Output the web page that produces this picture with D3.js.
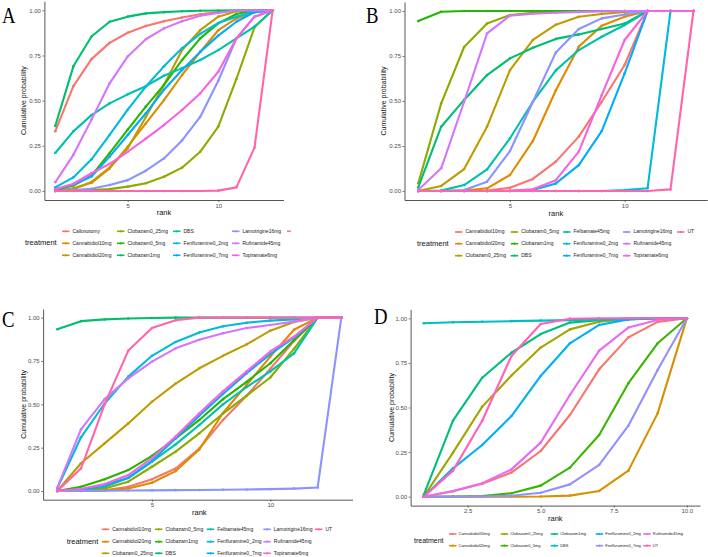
<!DOCTYPE html>
<html><head><meta charset="utf-8">
<script src="https://cdn.jsdelivr.net/npm/d3@7"></script>
<style>body{margin:0;background:#fff} svg{display:block}</style>
</head><body><svg id="c" width="708" height="557"></svg>
<script>
// ---------- DATA ----------
const ranks13 = [1,2,3,4,5,6,7,8,9,10,11,12,13];
const ranks10 = [1,2,3,4,5,6,7,8,9,10];
const colors13 = ["#F8766D","#E18A00","#BE9C00","#8CAB00","#24B700","#00BE70","#00C1AB","#00BBDA","#00ACFC","#8B93FF","#D575FE","#F962DD","#FF65AC"];
const colors10 = ["#F8766D","#D89000","#A3A500","#39B600","#00BF7D","#00BFC4","#00B0F6","#9590FF","#E76BF3","#FF62BC"];
const yTicks = [0,0.25,0.5,0.75,1];

const treatmentsA = ["Callosotomy","Cannabidiol10mg","Cannabidiol20mg","Clobazam0_25mg","Clobazam0_5mg","Clobazam1mg","DBS","Fenfluramine0_2mg","Fenfluramine0_7mg","Lamotrigine16mg","Rufinamide45mg","Topiramate6mg","UT"];
const valuesA = [
  [0.33,0.58,0.73,0.82,0.876,0.913,0.94,0.96,0.978,0.99,1,1,1],
  [0,0.015,0.045,0.125,0.245,0.374,0.503,0.642,0.77,0.89,0.955,0.99,1],
  [0,0.01,0.05,0.13,0.236,0.41,0.587,0.78,0.89,0.965,0.995,1,1],
  [0,0.002,0.005,0.01,0.024,0.043,0.079,0.129,0.217,0.356,0.62,0.906,1],
  [0.005,0.03,0.085,0.21,0.34,0.467,0.587,0.725,0.845,0.928,0.98,1,1],
  [0.36,0.69,0.855,0.937,0.965,0.983,0.99,0.995,0.998,0.999,1,1,1],
  [0.21,0.33,0.42,0.485,0.535,0.58,0.638,0.68,0.725,0.78,0.845,0.91,1],
  [0.02,0.075,0.175,0.31,0.45,0.578,0.69,0.79,0.87,0.93,0.965,0.995,1],
  [0.01,0.035,0.08,0.19,0.31,0.43,0.56,0.67,0.77,0.86,0.937,0.99,1],
  [0,0.005,0.012,0.033,0.06,0.112,0.18,0.28,0.41,0.61,0.845,0.965,1],
  [0.048,0.2,0.395,0.596,0.745,0.84,0.9,0.94,0.97,0.985,1,1,1],
  [0.01,0.04,0.098,0.15,0.217,0.29,0.365,0.448,0.54,0.66,0.845,0.965,1],
  [0,0,0,0,0,0,0,0,0,0.002,0.02,0.24,1]
];

const treatmentsB = ["Cannabidiol10mg","Cannabidiol20mg","Clobazam0_25mg","Clobazam0_5mg","Clobazam1mg","DBS","Felbamate45mg","Fenfluramine0_2mg","Fenfluramine0_7mg","Lamotrigine16mg","Rufinamide45mg","Topiramate6mg","UT"];
const valuesB = [
  [0,0,0,0.002,0.018,0.067,0.163,0.302,0.496,0.7,1,1,1],
  [0,0,0.002,0.015,0.089,0.278,0.56,0.802,0.918,0.968,1,1,1],
  [0,0.028,0.122,0.357,0.672,0.839,0.924,0.968,0.983,0.995,1,1,1],
  [0.043,0.487,0.8,0.93,0.978,0.99,0.997,1,1,1,1,1,1],
  [0.944,0.996,1,1,1,1,1,1,1,1,1,1,1],
  [0.02,0.357,0.506,0.644,0.737,0.796,0.845,0.87,0.9,0.93,1,1,1],
  [0,0.002,0.033,0.12,0.293,0.496,0.67,0.783,0.857,0.922,1,1,1],
  [0,0,0,0,0,0,0,0,0,0.005,0.015,1,1],
  [0,0,0,0,0,0.005,0.042,0.144,0.333,0.654,1,1,1],
  [0,0,0.005,0.052,0.222,0.496,0.77,0.9,0.959,0.981,1,1,1],
  [0.005,0.126,0.496,0.876,0.974,0.985,0.99,0.995,0.998,1,1,1,1],
  [0,0,0,0,0.002,0.01,0.06,0.219,0.533,0.839,1,1,1],
  [0,0,0,0,0,0,0,0,0,0,0,0.009,1]
];

const treatmentsC = ["Cannabidiol10mg","Cannabidiol20mg","Clobazam0_25mg","Clobazam0_5mg","Clobazam1mg","DBS","Felbamate45mg","Fenfluramine0_2mg","Fenfluramine0_7mg","Lamotrigine16mg","Rufinamide45mg","Topiramate6mg","UT"];
const valuesC = [
  [0,0.001,0.005,0.025,0.068,0.13,0.245,0.41,0.55,0.705,0.865,1,1],
  [0,0.001,0.004,0.015,0.048,0.115,0.24,0.45,0.612,0.775,0.93,1,1],
  [0,0.16,0.275,0.39,0.515,0.62,0.708,0.78,0.846,0.925,0.975,1,1],
  [0,0.005,0.015,0.054,0.14,0.227,0.333,0.447,0.55,0.655,0.82,1,1],
  [0,0.025,0.068,0.121,0.203,0.304,0.41,0.53,0.63,0.737,0.87,1,1],
  [0.933,0.98,0.99,0.995,0.998,1,1,1,1,1,1,1,1],
  [0,0.005,0.025,0.075,0.17,0.269,0.381,0.5,0.6,0.69,0.794,1,1],
  [0.015,0.31,0.505,0.66,0.78,0.86,0.915,0.95,0.971,0.983,0.99,1,1],
  [0,0.01,0.035,0.077,0.173,0.304,0.435,0.56,0.68,0.79,0.885,1,1],
  [0,0.001,0.002,0.003,0.004,0.005,0.006,0.007,0.009,0.011,0.014,0.02,1],
  [0.02,0.356,0.53,0.65,0.746,0.823,0.873,0.91,0.94,0.958,0.977,1,1],
  [0,0.012,0.04,0.092,0.19,0.314,0.448,0.575,0.69,0.805,0.89,1,1],
  [0,0.13,0.5,0.81,0.94,0.985,1,1,1,1,1,1,1]
];

const treatmentsD = ["Cannabidiol10mg","Cannabidiol20mg","Clobazam0_25mg","Clobazam0_5mg","Clobazam1mg","DBS","Fenfluramine0_2mg","Fenfluramine0_7mg","Rufinamide45mg","UT"];
const valuesD = [
  [0,0.03,0.072,0.135,0.256,0.458,0.714,0.893,0.98,1],
  [0,0,0,0,0.001,0.006,0.032,0.146,0.467,1],
  [0,0.247,0.505,0.679,0.836,0.938,0.981,0.995,1,1],
  [0,0.001,0.004,0.019,0.062,0.163,0.346,0.636,0.86,1],
  [0.01,0.426,0.667,0.807,0.912,0.976,0.99,1,1,1],
  [0.972,0.978,0.981,0.984,0.987,0.99,0.993,0.995,0.998,1],
  [0,0.159,0.29,0.452,0.677,0.86,0.963,0.994,1,1],
  [0,0,0.001,0.005,0.022,0.069,0.178,0.398,0.71,1],
  [0,0.032,0.075,0.153,0.303,0.57,0.819,0.948,0.991,1],
  [0,0.146,0.426,0.789,0.968,0.998,1,1,1,1]
];

const xTicksAC = [5,10];
const xTicksD = [2.5,5,7.5,10];

// ---------- DRAW ----------
const svg = d3.select("#c");
svg.append("rect").attr("width",708).attr("height",557).attr("fill","#fff");
const defs = svg.append("defs");
defs.append("clipPath").attr("id","clipA").append("rect").attr("x",0).attr("y",0).attr("width",290.5).attr("height",280);
defs.append("clipPath").attr("id","clipC").append("rect").attr("x",0).attr("y",280).attr("width",353).attr("height",277);

const FONT = "'Liberation Sans', Arial, sans-serif";

function drawPanel(p, names, values, colors, ranks) {
  const g = svg.append("g");
  if (p.clip) g.attr("clip-path", `url(#${p.clip})`);
  const x = d3.scaleLinear().domain(p.xDomain).range(p.xRange);
  const y = d3.scaleLinear().domain([-0.05,1.05]).range(p.yRange);

  const line = d3.line().x((d,i)=>x(ranks[i])).y(d=>y(d));
  names.forEach((n,k)=>{
    g.append("path").attr("d", line(values[k])).attr("fill","none")
      .attr("stroke",colors[k]).attr("stroke-width",2.1).attr("stroke-linejoin","round");
    g.append("g").selectAll("circle").data(values[k]).enter().append("circle")
      .attr("cx",(d,i)=>x(ranks[i])).attr("cy",d=>y(d)).attr("r",1.3).attr("fill",colors[k]);
  });

  const ya = g.append("g").attr("transform",`translate(${p.xRange[0]},0)`)
    .call(d3.axisLeft(y).tickValues(yTicks).tickFormat(d3.format(".2f")).tickSize(2).tickSizeOuter(0).tickPadding(1.5));
  const xa = g.append("g").attr("transform",`translate(0,${p.yRange[0]})`)
    .call(d3.axisBottom(x).tickValues(p.xTicks).tickFormat(p.xFmt).tickSize(2).tickSizeOuter(0).tickPadding(1.5));
  [ya,xa].forEach(a=>{
    a.select(".domain").attr("stroke","#444").attr("stroke-width",0.9);
    a.selectAll(".tick line").attr("stroke","#444").attr("stroke-width",0.7);
    a.selectAll(".tick text").attr("font-size",6).attr("fill","#4D4D4D").attr("font-family",FONT);
  });

  g.append("text").attr("transform",`translate(${p.yTitleX},${(p.yRange[0]+p.yRange[1])/2}) rotate(-90)`)
    .attr("text-anchor","middle").attr("dominant-baseline","middle")
    .attr("font-size",7).attr("font-family",FONT).attr("fill","#111").text("Cumulative probability");
  g.append("text").attr("x",(p.xRange[0]+p.xRange[1])/2).attr("y",p.xTitleY)
    .attr("text-anchor","middle").attr("dominant-baseline","middle")
    .attr("font-size",7.5).attr("font-family",FONT).attr("fill","#111").text("rank");

  // legend
  g.append("text").attr("x",p.legTitleX).attr("y",p.legTitleY).attr("dominant-baseline","middle")
    .attr("font-size",p.legTitleFont).attr("font-family",FONT).attr("fill","#111").text("treatment");
  names.forEach((n,k)=>{
    const col = Math.floor(k/p.legRows), row = k % p.legRows;
    const kx = p.legKeyX[col], ky = p.legRowY[row];
    g.append("line").attr("x1",kx).attr("x2",kx+7.5).attr("y1",ky).attr("y2",ky)
      .attr("stroke",colors[k]).attr("stroke-width",1.6);
    g.append("circle").attr("cx",kx+3.75).attr("cy",ky).attr("r",1.1).attr("fill",colors[k]);
    g.append("text").attr("x",kx+p.legTextOff).attr("y",ky).attr("dominant-baseline","middle")
      .attr("font-size",p.legFont).attr("font-family",FONT).attr("fill","#222").text(n);
  });

  g.append("text").attr("x",p.letterX).attr("y",p.letterY)
    .attr("transform",`translate(${p.letterX},${p.letterY}) scale(0.78,1) translate(${-p.letterX},${-p.letterY})`)
    .attr("font-size",24).attr("font-family","'Liberation Serif','Times New Roman',serif").attr("fill","#000").text(p.letter);
}

const fmtInt = d3.format("d");
const fmtD = d3.format(".1f");

drawPanel({letter:"A", letterX:2, letterY:23, clip:"clipA",
  xDomain:[0.4,13.6], xRange:[44.4,283.5], yRange:[200,1.3], xTicks:xTicksAC, xFmt:fmtInt,
  yTitleX:24, xTitleY:213.5, legFont:5, legTitleFont:7.5, legTextOff:10.5,
  legTitleX:25, legTitleY:243.3, legRows:3, legRowY:[231.3,243.3,255.3], legKeyX:[62,117,173,232,287]
}, treatmentsA, valuesA, colors13, ranks13);

drawPanel({letter:"B", letterX:366, letterY:23,
  xDomain:[0.4,13.6], xRange:[404.5,707.2], yRange:[200,2], xTicks:xTicksAC, xFmt:fmtInt,
  yTitleX:384, xTitleY:214, legFont:5, legTitleFont:7.5, legTextOff:10.5,
  legTitleX:417, legTitleY:243.7, legRows:3, legRowY:[232,243.7,255.7], legKeyX:[455,510.7,563,623,677]
}, treatmentsB, valuesB, colors13, ranks13);

drawPanel({letter:"C", letterX:2, letterY:327, clip:"clipC",
  xDomain:[0.4,13.6], xRange:[43.1,355.5], yRange:[499.7,309], xTicks:xTicksAC, xFmt:fmtInt,
  yTitleX:24, xTitleY:513.3, legFont:5, legTitleFont:7.5, legTextOff:10.5,
  legTitleX:66.7, legTitleY:541.7, legRows:3, legRowY:[529.3,541.7,553.3], legKeyX:[101.7,155,206.7,263.3,315]
}, treatmentsC, valuesC, colors13, ranks13);

drawPanel({letter:"D", letterX:374, letterY:324,
  xDomain:[0.55,10.45], xRange:[410.6,700], yRange:[505.6,309.4], xTicks:xTicksD, xFmt:fmtD,
  yTitleX:392, xTitleY:518.7, legFont:4, legTitleFont:7, legTextOff:9.5,
  legTitleX:414, legTitleY:541, legRows:2, legRowY:[534,545.7], legKeyX:[449,500.7,550.7,595.7,643.3]
}, treatmentsD, valuesD, colors10, ranks10);
</script>
</body></html>
